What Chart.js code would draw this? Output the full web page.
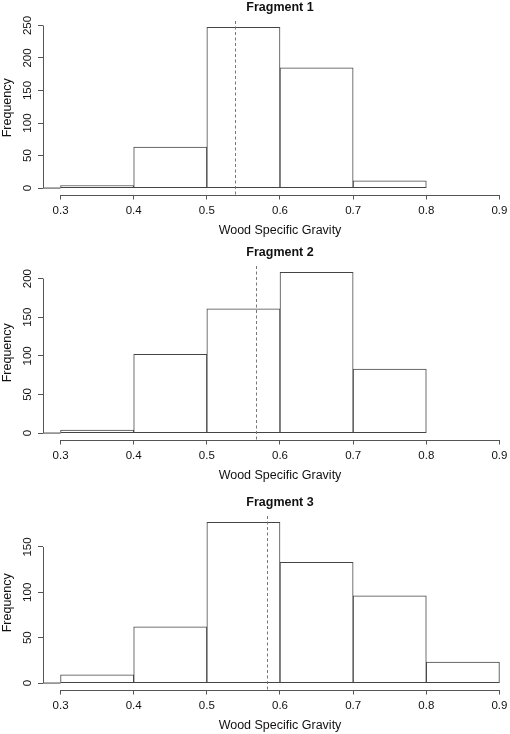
<!DOCTYPE html>
<html lang="en">
<head>
<meta charset="UTF-8">
<title>Wood Specific Gravity by Fragment</title>
<script src="https://cdn.jsdelivr.net/npm/chart.js"></script>
<style>
    html, body {
        margin: 0;
        padding: 0;
        background: #fff;
        overflow: hidden;
    }
    body {
        width: 510px;
        height: 734px;
        position: relative;
    }
    .panel {
        position: absolute;
        left: 0;
        width: 517px;
        height: 240px;
    }
</style>
</head>
<body>
<div class="panel" style="top:0px"><canvas id="frag1"></canvas></div>
<div class="panel" style="top:245px"><canvas id="frag2"></canvas></div>
<div class="panel" style="top:495px"><canvas id="frag3"></canvas></div>

<script>
    // histogram bins (0.1 wide), counts
    const binMids = [0.35, 0.45, 0.55, 0.65, 0.75, 0.85];
    const frag1Counts = [4, 63, 247, 185, 11];
    const frag2Counts = [4, 102, 161, 208, 83];
    const frag3Counts = [9, 62, 177, 133, 96, 23];

    // dashed lines = mean specific gravity
    const frag1Mean = 0.539;
    const frag2Mean = 0.567;
    const frag3Mean = 0.582;

    const xTicks = [0.3, 0.4, 0.5, 0.6, 0.7, 0.8, 0.9];
    const xTickLabels = ['0.3', '0.4', '0.5', '0.6', '0.7', '0.8', '0.9'];
    const frag1YTicks = [0, 50, 100, 150, 200, 250];
    const frag2YTicks = [0, 50, 100, 150, 200];
    const frag3YTicks = [0, 50, 100, 150];

    const textColor = '#111';
    const axisColor = '#555';
    const fontFamily = '"Liberation Sans", Arial, Helvetica, sans-serif';

    Chart.defaults.font.family = fontFamily;
    Chart.defaults.color = textColor;

    // R-style axes: lines only between first and last tick, y labels rotated
    const histAxes = {
        id: 'histAxes',
        afterDraw(chart, args, opts) {
            const { ctx, chartArea: area } = chart;
            const x = chart.scales.x, y = chart.scales.y;
            ctx.save();
            ctx.strokeStyle = axisColor;
            ctx.lineWidth = 1;

            const yb = Math.round(area.bottom) + 0.5;
            ctx.beginPath();
            ctx.moveTo(x.getPixelForValue(xTicks[0]), yb);
            ctx.lineTo(x.getPixelForValue(xTicks[xTicks.length - 1]), yb);
            ctx.stroke();

            const yt = y.ticks;
            const xl = Math.round(area.left) + 0.5;
            ctx.beginPath();
            ctx.moveTo(xl, y.getPixelForValue(yt[0].value));
            ctx.lineTo(xl, y.getPixelForValue(yt[yt.length - 1].value));
            ctx.stroke();

            ctx.fillStyle = textColor;
            ctx.font = '11.5px ' + fontFamily;
            ctx.textAlign = 'center';
            ctx.textBaseline = 'middle';
            yt.forEach(t => {
                ctx.save();
                ctx.translate(area.left - 15, y.getPixelForValue(t.value));
                ctx.rotate(-Math.PI / 2);
                ctx.fillText(String(t.value), 0, 0);
                ctx.restore();
            });

            const mx = Math.round(x.getPixelForValue(opts.mean)) + 0.5;
            ctx.strokeStyle = '#777';
            ctx.setLineDash([3, 2.5]);
            ctx.beginPath();
            ctx.moveTo(mx, area.top);
            ctx.lineTo(mx, area.bottom);
            ctx.stroke();
            ctx.restore();
        }
    };

    function makeHist(id, title, counts, mean, yTicks) {
        const top = Math.max(...counts);
        const xMin = xTicks[0] - 0.04 * (xTicks[xTicks.length - 1] - xTicks[0]);
        const xMax = xTicks[xTicks.length - 1] + 0.04 * (xTicks[xTicks.length - 1] - xTicks[0]);

        new Chart(document.getElementById(id), {
            type: 'bar',
            data: {
                datasets: [{
                    data: counts.map((c, i) => ({ x: binMids[i], y: c })),
                    backgroundColor: '#fff',
                    borderColor: '#444',
                    borderWidth: 1,
                    borderSkipped: false,
                    barPercentage: 1,
                    categoryPercentage: 1
                }, {
                    type: 'line',
                    data: [{ x: xMin, y: 0 }, { x: xTicks[0], y: 0 }],
                    borderColor: '#444',
                    borderWidth: 1,
                    pointRadius: 0
                }]
            },
            options: {
                responsive: true,
                maintainAspectRatio: false,
                animation: false,
                events: [],
                layout: { padding: 0 },
                scales: {
                    x: {
                        type: 'linear',
                        min: xMin,
                        max: xMax,
                        offset: false,
                        afterBuildTicks: s => { s.ticks = xTicks.map(v => ({ value: v })); },
                        afterFit: s => { s.height = 45.5; },
                        ticks: {
                            autoSkip: false,
                            maxRotation: 0,
                            padding: 4.5,
                            color: textColor,
                            font: { size: 11.5 },
                            callback: (v, i) => xTickLabels[i]
                        },
                        grid: { offset: false, drawOnChartArea: false, drawTicks: true, tickLength: 5, color: axisColor },
                        border: { display: false },
                        title: {
                            display: true,
                            text: 'Wood Specific Gravity',
                            color: textColor,
                            font: { size: 12.5 },
                            padding: { top: 5, bottom: 2 }
                        }
                    },
                    y: {
                        type: 'linear',
                        min: -0.04 * top,
                        max: 1.04 * top,
                        afterBuildTicks: s => { s.ticks = yTicks.map(v => ({ value: v })); },
                        afterFit: s => { s.width = 43; },
                        ticks: { display: false },
                        grid: { drawOnChartArea: false, drawTicks: true, tickLength: 5, color: axisColor },
                        border: { display: false },
                        title: {
                            display: true,
                            text: 'Frequency',
                            color: textColor,
                            font: { size: 12.5 },
                            padding: 0
                        }
                    }
                },
                plugins: {
                    legend: { display: false },
                    tooltip: { enabled: false },
                    title: {
                        display: true,
                        text: title,
                        fullSize: false,
                        color: textColor,
                        font: { size: 12.5, weight: 'bold' },
                        padding: { top: 0, bottom: 6 }
                    },
                    histAxes: { mean: mean }
                }
            },
            plugins: [histAxes]
        });
    }

    makeHist('frag1', 'Fragment 1', frag1Counts, frag1Mean, frag1YTicks);
    makeHist('frag2', 'Fragment 2', frag2Counts, frag2Mean, frag2YTicks);
    makeHist('frag3', 'Fragment 3', frag3Counts, frag3Mean, frag3YTicks);
</script>
</body>
</html>
